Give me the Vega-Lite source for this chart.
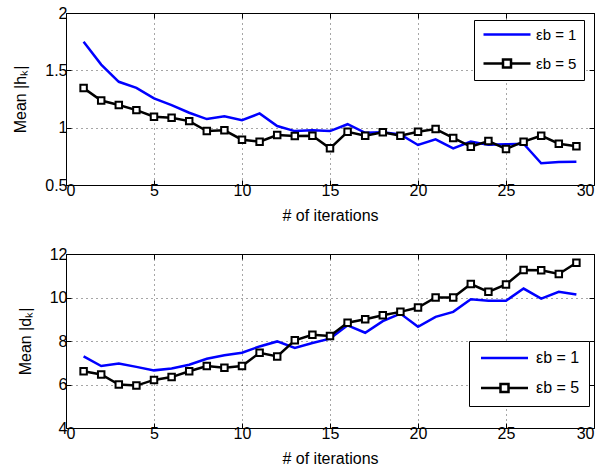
{
  "$schema": "https://vega.github.io/schema/vega-lite/v6.json",
  "padding": {"left": 12, "top": 4, "right": 4, "bottom": 0},
  "background": "white",
  "datasets": {
    "h": [
      {"x": 1, "s": "1", "y": 1.75}, {"x": 2, "s": "1", "y": 1.55}, {"x": 3, "s": "1", "y": 1.40}, {"x": 4, "s": "1", "y": 1.347},
      {"x": 5, "s": "1", "y": 1.255}, {"x": 6, "s": "1", "y": 1.197}, {"x": 7, "s": "1", "y": 1.13}, {"x": 8, "s": "1", "y": 1.075},
      {"x": 9, "s": "1", "y": 1.10}, {"x": 10, "s": "1", "y": 1.066}, {"x": 11, "s": "1", "y": 1.124}, {"x": 12, "s": "1", "y": 1.014},
      {"x": 13, "s": "1", "y": 0.97}, {"x": 14, "s": "1", "y": 0.977}, {"x": 15, "s": "1", "y": 0.97}, {"x": 16, "s": "1", "y": 1.03},
      {"x": 17, "s": "1", "y": 0.955}, {"x": 18, "s": "1", "y": 0.96}, {"x": 19, "s": "1", "y": 0.94}, {"x": 20, "s": "1", "y": 0.849},
      {"x": 21, "s": "1", "y": 0.898}, {"x": 22, "s": "1", "y": 0.82}, {"x": 23, "s": "1", "y": 0.878}, {"x": 24, "s": "1", "y": 0.85},
      {"x": 25, "s": "1", "y": 0.855}, {"x": 26, "s": "1", "y": 0.86}, {"x": 27, "s": "1", "y": 0.69}, {"x": 28, "s": "1", "y": 0.70},
      {"x": 29, "s": "1", "y": 0.703},
      {"x": 1, "s": "5", "y": 1.345}, {"x": 2, "s": "5", "y": 1.237}, {"x": 3, "s": "5", "y": 1.197}, {"x": 4, "s": "5", "y": 1.153},
      {"x": 5, "s": "5", "y": 1.095}, {"x": 6, "s": "5", "y": 1.086}, {"x": 7, "s": "5", "y": 1.057}, {"x": 8, "s": "5", "y": 0.97},
      {"x": 9, "s": "5", "y": 0.977}, {"x": 10, "s": "5", "y": 0.895}, {"x": 11, "s": "5", "y": 0.878}, {"x": 12, "s": "5", "y": 0.936},
      {"x": 13, "s": "5", "y": 0.927}, {"x": 14, "s": "5", "y": 0.93}, {"x": 15, "s": "5", "y": 0.82}, {"x": 16, "s": "5", "y": 0.964},
      {"x": 17, "s": "5", "y": 0.93}, {"x": 18, "s": "5", "y": 0.96}, {"x": 19, "s": "5", "y": 0.93}, {"x": 20, "s": "5", "y": 0.964},
      {"x": 21, "s": "5", "y": 0.988}, {"x": 22, "s": "5", "y": 0.91}, {"x": 23, "s": "5", "y": 0.834}, {"x": 24, "s": "5", "y": 0.883},
      {"x": 25, "s": "5", "y": 0.814}, {"x": 26, "s": "5", "y": 0.878}, {"x": 27, "s": "5", "y": 0.93}, {"x": 28, "s": "5", "y": 0.86},
      {"x": 29, "s": "5", "y": 0.837}
    ],
    "d": [
      {"x": 1, "s": "1", "y": 7.29}, {"x": 2, "s": "1", "y": 6.85}, {"x": 3, "s": "1", "y": 6.97}, {"x": 4, "s": "1", "y": 6.81},
      {"x": 5, "s": "1", "y": 6.65}, {"x": 6, "s": "1", "y": 6.74}, {"x": 7, "s": "1", "y": 6.91}, {"x": 8, "s": "1", "y": 7.18},
      {"x": 9, "s": "1", "y": 7.34}, {"x": 10, "s": "1", "y": 7.46}, {"x": 11, "s": "1", "y": 7.75}, {"x": 12, "s": "1", "y": 7.98},
      {"x": 13, "s": "1", "y": 7.68}, {"x": 14, "s": "1", "y": 7.91}, {"x": 15, "s": "1", "y": 8.11}, {"x": 16, "s": "1", "y": 8.72},
      {"x": 17, "s": "1", "y": 8.38}, {"x": 18, "s": "1", "y": 8.91}, {"x": 19, "s": "1", "y": 9.26}, {"x": 20, "s": "1", "y": 8.65},
      {"x": 21, "s": "1", "y": 9.11}, {"x": 22, "s": "1", "y": 9.34}, {"x": 23, "s": "1", "y": 9.92}, {"x": 24, "s": "1", "y": 9.85},
      {"x": 25, "s": "1", "y": 9.85}, {"x": 26, "s": "1", "y": 10.41}, {"x": 27, "s": "1", "y": 9.95}, {"x": 28, "s": "1", "y": 10.26},
      {"x": 29, "s": "1", "y": 10.14},
      {"x": 1, "s": "5", "y": 6.61}, {"x": 2, "s": "5", "y": 6.46}, {"x": 3, "s": "5", "y": 6.0}, {"x": 4, "s": "5", "y": 5.95},
      {"x": 5, "s": "5", "y": 6.21}, {"x": 6, "s": "5", "y": 6.34}, {"x": 7, "s": "5", "y": 6.61}, {"x": 8, "s": "5", "y": 6.85},
      {"x": 9, "s": "5", "y": 6.77}, {"x": 10, "s": "5", "y": 6.85}, {"x": 11, "s": "5", "y": 7.46}, {"x": 12, "s": "5", "y": 7.29},
      {"x": 13, "s": "5", "y": 8.03}, {"x": 14, "s": "5", "y": 8.29}, {"x": 15, "s": "5", "y": 8.23}, {"x": 16, "s": "5", "y": 8.84},
      {"x": 17, "s": "5", "y": 9.0}, {"x": 18, "s": "5", "y": 9.18}, {"x": 19, "s": "5", "y": 9.34}, {"x": 20, "s": "5", "y": 9.54},
      {"x": 21, "s": "5", "y": 10.0}, {"x": 22, "s": "5", "y": 10.0}, {"x": 23, "s": "5", "y": 10.62}, {"x": 24, "s": "5", "y": 10.26},
      {"x": 25, "s": "5", "y": 10.6}, {"x": 26, "s": "5", "y": 11.26}, {"x": 27, "s": "5", "y": 11.25}, {"x": 28, "s": "5", "y": 11.08},
      {"x": 29, "s": "5", "y": 11.6}
    ]
  },
  "config": {
    "font": "Liberation Sans",
    "view": {"stroke": "black", "strokeWidth": 1},
    "axis": {
      "labelFont": "Liberation Sans", "labelFontSize": 16, "labelColor": "black",
      "titleFont": "Liberation Sans", "titleFontSize": 16, "titleFontWeight": "normal", "titleColor": "black",
      "tickColor": "black", "tickSize": -5, "tickWidth": 1, "domain": false,
      "grid": true, "gridColor": "black", "gridDash": [1, 4], "gridOpacity": 0.7, "gridWidth": 1,
      "labelPadding": 4, "format": "~g"
    },
    "legend": {
      "title": null, "orient": "none", "strokeColor": "black", "fillColor": "white",
      "padding": 7, "labelFont": "Liberation Sans", "labelFontSize": 15, "labelColor": "black",
      "symbolSize": 100, "symbolStrokeWidth": 2.5, "rowPadding": 11, "labelOffset": 40,
      "symbolType": "M-1,0H8.4"
    }
  },
  "resolve": {"scale": {"color": "independent"}, "legend": {"color": "independent"}},
  "spacing": 21,
  "vconcat": [
    {
      "width": 528, "height": 172,
      "data": {"name": "h"},
      "layer": [
        {
          "mark": {"type": "line", "strokeWidth": 2.5},
          "encoding": {
            "x": {"field": "x", "type": "quantitative", "scale": {"domain": [0, 30], "nice": false},
                  "axis": {"values": [0, 5, 10, 15, 20, 25, 30], "title": "# of iterations", "labelPadding": 2, "titlePadding": 9}},
            "y": {"field": "y", "type": "quantitative", "scale": {"domain": [0.5, 2], "nice": false, "zero": false},
                  "axis": {"values": [0.5, 1, 1.5, 2], "title": "Mean |hₖ|", "titlePadding": 16}},
            "color": {"field": "s", "type": "nominal", "scale": {"domain": ["1", "5"], "range": ["#0000ff", "#000000"]},
                      "legend": {"legendX": 408, "legendY": 7, "labelExpr": "'εb = ' + datum.label",
                                 "encode": {"symbols": {"update": {"shape": {"signal": "datum.value == '5' ? 'M-1,0H2.9M4.5,0H8.4M2.9,-0.8H4.5V0.8H2.9Z' : 'M-1,0H8.4'"}}}}}}
          }
        },
        {
          "transform": [{"filter": "datum.s == '5'"}],
          "mark": {"type": "point", "shape": "square", "filled": true, "fill": "white", "stroke": "black", "strokeWidth": 2, "size": 42, "opacity": 1},
          "encoding": {
            "x": {"field": "x", "type": "quantitative", "axis": {"orient": "top", "values": [0, 5, 10, 15, 20, 25, 30], "labels": false, "title": null, "grid": false}},
            "y": {"field": "y", "type": "quantitative", "axis": {"orient": "right", "values": [0.5, 1, 1.5, 2], "labels": false, "title": null, "grid": false}}
          }
        }
      ],
      "resolve": {"axis": {"x": "independent", "y": "independent"}}
    },
    {
      "width": 528, "height": 174,
      "data": {"name": "d"},
      "layer": [
        {
          "mark": {"type": "line", "strokeWidth": 2.5},
          "encoding": {
            "x": {"field": "x", "type": "quantitative", "scale": {"domain": [0, 30], "nice": false},
                  "axis": {"values": [0, 5, 10, 15, 20, 25, 30], "title": "# of iterations", "labelPadding": 2, "titlePadding": 9}},
            "y": {"field": "y", "type": "quantitative", "scale": {"domain": [4, 12], "nice": false, "zero": false},
                  "axis": {"values": [4, 6, 8, 10, 12], "title": "Mean |dₖ|", "titlePadding": 16}},
            "color": {"field": "s", "type": "nominal", "scale": {"domain": ["1", "5"], "range": ["#0000ff", "#000000"]},
                      "legend": {"legendX": 403, "legendY": 87, "padding": 9, "rowPadding": 13, "labelFontSize": 16, "labelOffset": 42, "labelExpr": "'εb = ' + datum.label",
                                 "encode": {"symbols": {"update": {"shape": {"signal": "datum.value == '5' ? 'M-1,0H2.9M4.5,0H8.4M2.9,-0.8H4.5V0.8H2.9Z' : 'M-1,0H8.4'"}}}}}}
          }
        },
        {
          "transform": [{"filter": "datum.s == '5'"}],
          "mark": {"type": "point", "shape": "square", "filled": true, "fill": "white", "stroke": "black", "strokeWidth": 2, "size": 42, "opacity": 1},
          "encoding": {
            "x": {"field": "x", "type": "quantitative", "axis": {"orient": "top", "values": [0, 5, 10, 15, 20, 25, 30], "labels": false, "title": null, "grid": false}},
            "y": {"field": "y", "type": "quantitative", "axis": {"orient": "right", "values": [4, 6, 8, 10, 12], "labels": false, "title": null, "grid": false}}
          }
        }
      ],
      "resolve": {"axis": {"x": "independent", "y": "independent"}}
    }
  ]
}
